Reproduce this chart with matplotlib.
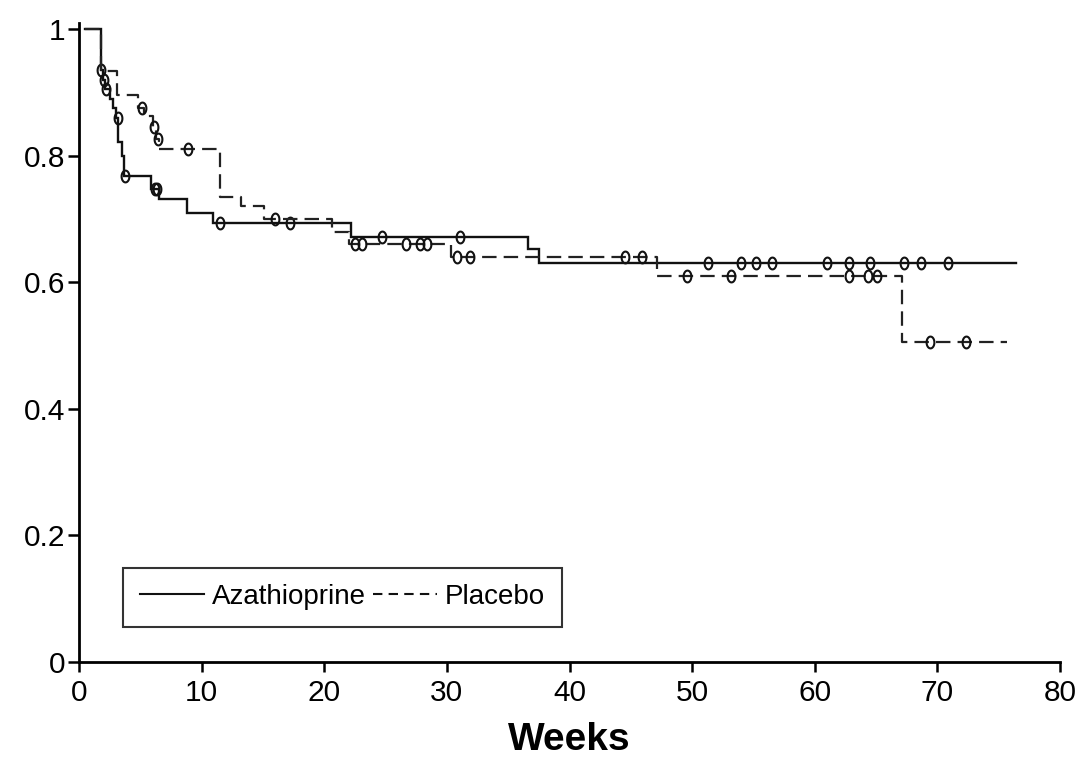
import numpy as np
import matplotlib
matplotlib.use('Agg')
import matplotlib.pyplot as plt
from matplotlib.path import Path
from matplotlib.lines import Line2D

# ---- data ----
aza_times = [0.5, 1.8, 1.95, 2.15, 2.5, 2.8, 3.0, 3.2, 3.5, 3.7, 5.9, 6.5, 8.8, 10.9, 22.2, 36.6, 37.5, 76.4]
aza_surv = [1.0, 0.935, 0.92, 0.906, 0.889, 0.875, 0.86, 0.822, 0.80, 0.768, 0.747, 0.732, 0.71, 0.693, 0.671, 0.652, 0.631, 0.631]
aza_censor = [1.8, 2.0, 2.2, 3.15, 3.75, 6.2, 6.35, 11.5, 17.2, 24.7, 31.1, 51.3, 54.0, 55.2, 56.5,
              61.0, 62.8, 64.5, 67.3, 68.7, 70.9]

pla_times = [0.5, 1.8, 3.1, 4.8, 5.3, 6.0, 6.3, 6.5, 11.5, 13.2, 15.1, 20.6, 22.0, 30.3, 47.1, 67.1, 75.7]
pla_surv = [1.0, 0.933, 0.896, 0.876, 0.862, 0.846, 0.827, 0.811, 0.735, 0.72, 0.70, 0.68, 0.661, 0.64, 0.61, 0.506, 0.506]
pla_censor = [5.1, 6.1, 6.4, 8.9, 16.0, 22.5, 23.1, 26.7, 27.8, 28.4, 30.8, 31.9, 44.5, 45.9, 49.6,
              53.2, 62.8, 64.3, 65.1, 69.4, 72.3]

x_ticks = [0, 10, 20, 30, 40, 50, 60, 70, 80]
y_ticks = [0, 0.2, 0.4, 0.6, 0.8, 1.0]
y_tick_labels = ['0', '0.2', '0.4', '0.6', '0.8', '1']
labels = ['Azathioprine', 'Placebo']
x_label = 'Weeks'

plt.rcParams['font.family'] = ['Liberation Sans', 'DejaVu Sans']

fig = plt.figure(figsize=(10.9, 7.58), dpi=100)
ax = fig.add_axes([0.0725, 0.1266, 0.9, 0.8434])

# ellipse marker (slightly taller than wide, like the reference)
t = np.linspace(0, 2 * np.pi, 40)
ell = Path(np.column_stack([0.33 * np.cos(t), 0.5 * np.sin(t)]), closed=True)


def surv_at(times, surv, x):
    idx = np.searchsorted(np.asarray(times), np.asarray(x), side='right') - 1
    return np.asarray(surv)[idx]


col = '#111111'
ax.step(aza_times, aza_surv, where='post', color=col, lw=1.7, solid_joinstyle='miter')
ax.plot(aza_censor, surv_at(aza_times, aza_surv, aza_censor), ls='none', marker=ell,
        ms=8.5, mfc='none', mec=col, mew=1.5)

ax.step(pla_times, pla_surv, where='post', color='#222222', lw=1.6, ls=(0, (6.5, 3.2)))
ax.plot(pla_censor, surv_at(pla_times, pla_surv, pla_censor), ls='none', marker=ell,
        ms=8.5, mfc='none', mec=col, mew=1.5)

ax.set_xlim(0, 80)
ax.set_ylim(0, 1.01)
ax.set_xticks(x_ticks)
ax.set_xticklabels([str(v) for v in x_ticks])
ax.set_yticks(y_ticks)
ax.set_yticklabels(y_tick_labels)

for side in ['top', 'right']:
    ax.spines[side].set_visible(False)
for side in ['left', 'bottom']:
    ax.spines[side].set_linewidth(2.0)
    ax.spines[side].set_color('black')

ax.tick_params(axis='x', length=7, width=1.8, pad=5, labelsize=21.5)
ax.tick_params(axis='y', length=8, width=1.8, pad=2, labelsize=21.5)
ax.set_xlabel(x_label, fontsize=28, fontweight='bold', labelpad=11)

handles = [Line2D([], [], color=col, lw=1.5),
           Line2D([], [], color=col, lw=1.5, ls=(0, (4.5, 3)))]
leg = ax.legend(handles, labels, ncol=2, loc='lower left', bbox_to_anchor=(0.045, 0.055),
                borderaxespad=0, borderpad=0.6, handlelength=2.3, handletextpad=0.3,
                columnspacing=0.25, fontsize=20, frameon=True, fancybox=False)
leg.get_frame().set_edgecolor('black')
leg.get_frame().set_linewidth(1.5)

fig.savefig('out.png', dpi=100)
